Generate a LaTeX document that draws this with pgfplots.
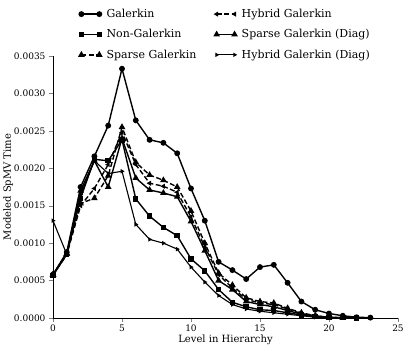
\documentclass[border=0pt]{standalone}
\usepackage{fontspec}
\setmainfont{DejaVu Serif}
\usepackage{pgfplots}
\pgfplotsset{compat=1.18}
\begin{document}
\begin{tikzpicture}
\path[use as bounding box] (-53pt,-32pt) rectangle (354pt,318pt);
\begin{axis}[
  at={(0,0)}, anchor=south west,
  scale only axis, width=345pt, height=262pt,
  xmin=0, xmax=25, ymin=0, ymax=0.0035,
  axis x line*=bottom, axis y line*=left,
  tick align=outside,
  major tick length=4pt,
  xtick={0,5,10,15,20,25},
  ytick={0,0.0005,0.001,0.0015,0.002,0.0025,0.003,0.0035},
  scaled y ticks=false,
  yticklabel style={/pgf/number format/.cd, fixed, fixed zerofill, precision=4},
  /pgf/number format/assume math mode=true,
  tick label style={font=\fontsize{9}{10}\selectfont},
  xticklabel style={yshift=1pt},
  label style={font=\fontsize{10}{12}\selectfont},
  xlabel={Level in Hierarchy}, ylabel={Modeled SpMV Time},
  xlabel style={at={(axis description cs:0.5,-0.082)}, anchor=center},
  ylabel style={at={(axis description cs:-0.130,0.5)}, anchor=center},
  every axis plot/.append style={line width=1.4pt, black},
  legend columns=2,
  legend cell align=left,
  legend style={draw=none, fill=none, at={(axis description cs:0.5,1)}, anchor=north, yshift=49pt,
    font=\fontsize{11}{12}\selectfont, row sep=6.5pt, inner sep=0pt,
    /tikz/every even column/.append style={column sep=16pt},
    /tikz/every odd column/.append style={column sep=3pt}},
  legend image code/.code={\draw[#1] plot coordinates {(0cm,0cm) (0.63cm,0cm)};},
]
\addplot[mark=*, mark size=2.2pt] coordinates {
(0,0.00058)(1,0.00088)(2,0.00175)(3,0.00216)(4,0.00257)(5,0.00333)(6,0.00264)(7,0.00238)(8,0.00234)(9,0.0022)(10,0.00173)(11,0.0013)(12,0.00075)(13,0.00064)(14,0.00052)(15,0.00068)(16,0.00071)(17,0.00047)(18,0.00022)(19,0.00011)(20,0.00006)(21,0.00003)(22,0.00001)(23,0.000005)};
\addlegendentry{Galerkin}
\addplot[dash pattern=on 5pt off 2.5pt, mark=triangle*, mark size=1.6pt, mark options={solid, rotate=90}] coordinates {
(0,0.00057)(1,0.00085)(2,0.0015)(3,0.00173)(4,0.00205)(5,0.00248)(6,0.00205)(7,0.0018)(8,0.00176)(9,0.00168)(10,0.00135)(11,0.00095)(12,0.00058)(13,0.0004)(14,0.00025)(15,0.0002)(16,0.00018)(17,0.00012)(18,0.00006)(19,0.00003)(20,0.00001)};
\addlegendentry{Hybrid Galerkin}
\addplot[mark=square*, mark size=2pt] coordinates {
(0,0.00057)(1,0.00085)(2,0.0016)(3,0.00212)(4,0.0021)(5,0.00238)(6,0.00159)(7,0.00136)(8,0.00121)(9,0.0011)(10,0.00079)(11,0.00063)(12,0.00038)(13,0.00021)(14,0.00015)(15,0.00011)(16,0.0001)(17,0.00007)(18,0.00004)(19,0.00002)(20,0.00001)(21,0.000005)(22,0.000002)};
\addlegendentry{Non-Galerkin}
\addplot[mark=triangle*, mark size=2.5pt] coordinates {
(0,0.00058)(1,0.00086)(2,0.0017)(3,0.0021)(4,0.00175)(5,0.0024)(6,0.00187)(7,0.00171)(8,0.00167)(9,0.00162)(10,0.00129)(11,0.0009)(12,0.0005)(13,0.00038)(14,0.00022)(15,0.00018)(16,0.00015)(17,0.0001)(18,0.00005)(19,0.00002)(20,0.00001)};
\addlegendentry{Sparse Galerkin (Diag)}
\addplot[dash pattern=on 5pt off 2.5pt, mark=triangle*, mark size=2.5pt, mark options={solid}] coordinates {
(0,0.00058)(1,0.00086)(2,0.00153)(3,0.0016)(4,0.0019)(5,0.00255)(6,0.00208)(7,0.00191)(8,0.00184)(9,0.00175)(10,0.00143)(11,0.001)(12,0.0006)(13,0.00044)(14,0.00027)(15,0.00022)(16,0.0002)(17,0.00013)(18,0.00007)(19,0.00003)(20,0.00001)(21,0.000005)};
\addlegendentry{Sparse Galerkin}
\addplot[line width=1.1pt, mark=triangle*, mark size=1.5pt, mark options={rotate=-90}] coordinates {
(0,0.0013)(1,0.00085)(2,0.00165)(3,0.0021)(4,0.00193)(5,0.00196)(6,0.00125)(7,0.00105)(8,0.001)(9,0.00092)(10,0.00068)(11,0.00048)(12,0.0003)(13,0.00018)(14,0.00012)(15,0.00009)(16,0.00007)(17,0.00005)(18,0.00003)(19,0.00001)(20,0.000005)};
\addlegendentry{Hybrid Galerkin (Diag)}
\end{axis}
\end{tikzpicture}
\end{document}
